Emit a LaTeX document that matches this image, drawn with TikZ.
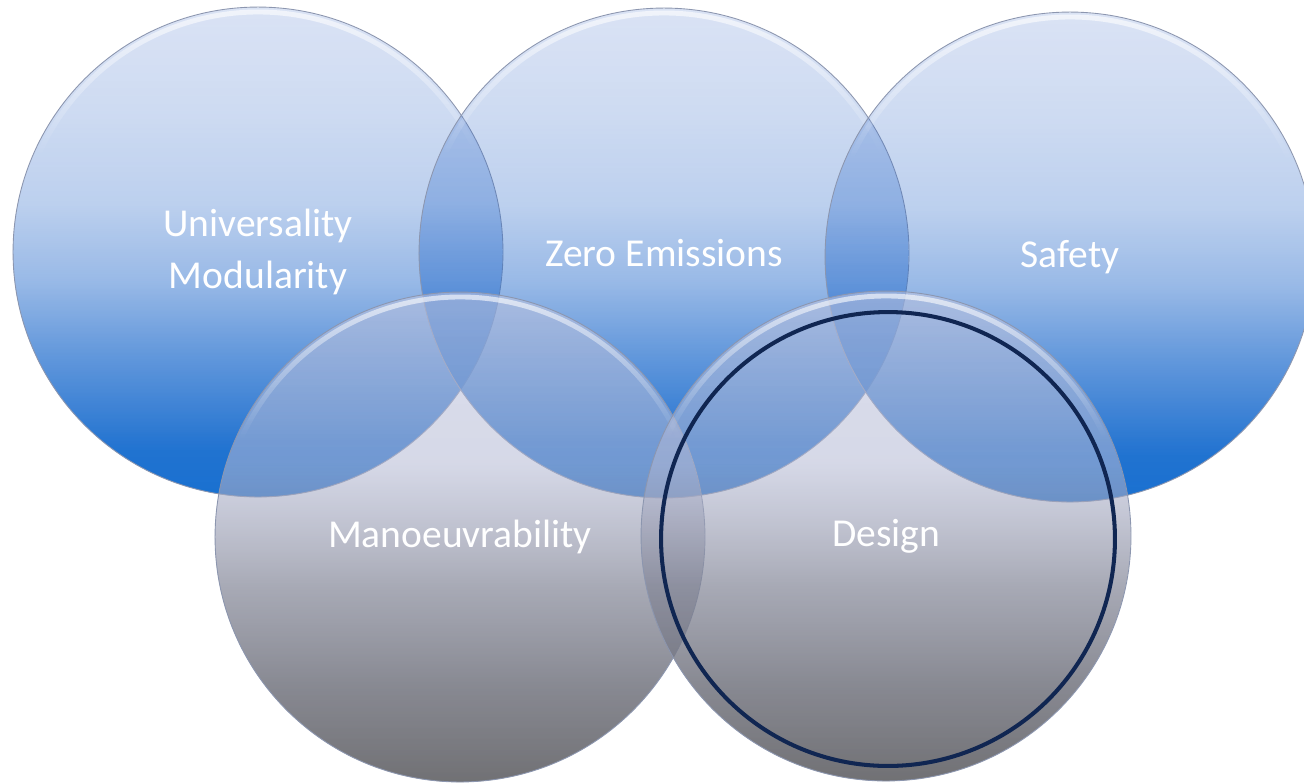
\documentclass[tikz,border=0pt]{standalone}
\usepackage{fontspec}
\setmainfont{Carlito}
\usetikzlibrary{fadings}
\definecolor{bluetop}{RGB}{50,98,196}
\definecolor{bluebot}{RGB}{24,112,208}
\definecolor{graytop}{RGB}{190,195,222}
\definecolor{graylight}{RGB}{180,185,212}
\definecolor{graymid}{RGB}{130,133,150}
\definecolor{graybot}{RGB}{100,100,104}
\definecolor{rimgray}{RGB}{140,150,175}
\definecolor{navy}{RGB}{16,38,82}
\pgfdeclareverticalshading{grayshade}{100bp}{color(0bp)=(graybot); color(25bp)=(graybot);
  color(45bp)=(graymid); color(57.5bp)=(graylight); color(75bp)=(graytop); color(100bp)=(graytop)}
\pgfdeclareverticalshading{bluemask}{100bp}{color(0bp)=(transparent!0); color(25bp)=(transparent!0);
  color(30bp)=(transparent!3); color(40bp)=(transparent!31); color(47bp)=(transparent!53);
  color(55bp)=(transparent!69); color(65bp)=(transparent!77); color(75bp)=(transparent!82); color(100bp)=(transparent!82)}
\pgfdeclareverticalshading{graymask}{100bp}{color(0bp)=(transparent!8); color(25bp)=(transparent!8);
  color(35bp)=(transparent!15); color(45bp)=(transparent!30); color(58bp)=(transparent!45);
  color(75bp)=(transparent!45); color(100bp)=(transparent!45)}
\tikzfading[name=bluefade, shading=bluemask]
\tikzfading[name=grayfade, shading=graymask]
\tikzfading[name=glintfade, top color=transparent!15, bottom color=transparent!100]
\tikzset{
  bubble/.style={circle, minimum size=9.8cm, inner sep=0pt, draw=rimgray, line width=0.5pt,
    text=white, align=center, font=\fontsize{22.5}{30}\selectfont},
  bluebubble/.style={bubble, preaction={top color=bluetop, bottom color=bluebot, path fading=bluefade}},
  graybubble/.style={bubble, preaction={shade, shading=grayshade, path fading=grayfade}},
  glint/.style={draw=white, line width=2.8pt, draw opacity=0.9, line cap=round, path fading=glintfade},
  ring/.style={circle, minimum size=9.08cm, inner sep=0pt, draw=navy, line width=2.3pt}
}
\begin{document}
\begin{tikzpicture}[x=0.02cm, y=-0.02cm]
\useasboundingbox (0,0) rectangle (1304,782);
\node[bluebubble] (univ) at (258,252) {Universality\\Modularity};
\draw[glint] ([shift={(155:4.8cm)}]univ.center) arc[start angle=155, end angle=25, radius=4.8cm];
\node[bluebubble] (zero) at (664,253) {Zero Emissions};
\draw[glint] ([shift={(155:4.8cm)}]zero.center) arc[start angle=155, end angle=25, radius=4.8cm];
\node[bluebubble] (safe) at (1070,257) {Safety};
\draw[glint] ([shift={(155:4.8cm)}]safe.center) arc[start angle=155, end angle=25, radius=4.8cm];
\node[graybubble] (manoeuvre) at (460,537) {Manoeuvrability};
\draw[glint] ([shift={(155:4.8cm)}]manoeuvre.center) arc[start angle=155, end angle=25, radius=4.8cm];
\node[graybubble] (design) at (886,536) {Design};
\draw[glint] ([shift={(155:4.8cm)}]design.center) arc[start angle=155, end angle=25, radius=4.8cm];
\node[ring] (focus) at (888,539) {};
\end{tikzpicture}
\end{document}
